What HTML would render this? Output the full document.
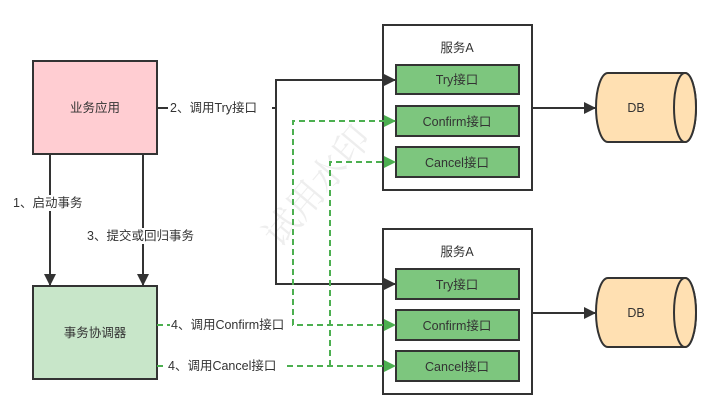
<!DOCTYPE html>
<html><head><meta charset="utf-8"><style>body{margin:0;background:#fff}svg{display:block}text{font-family:"Liberation Sans","Noto Sans CJK SC",sans-serif;font-size:12.5px;fill:#333}</style></head><body>
<svg width="721" height="420" viewBox="0 0 721 420" xmlns="http://www.w3.org/2000/svg">
<defs>
<marker id="ab" markerWidth="12" markerHeight="12" refX="11" refY="6" orient="auto" markerUnits="userSpaceOnUse"><path d="M0,0 L12,6 L0,12 Z" fill="#333"/></marker>
<marker id="ag" markerWidth="12" markerHeight="12" refX="11" refY="6" orient="auto" markerUnits="userSpaceOnUse"><path d="M0,0 L12,6 L0,12 Z" fill="#4caf50"/></marker>
</defs>
<text x="220" y="240" transform="rotate(-50 260 180)" style="font-size:36px;fill:#eee;font-family:'Noto Serif CJK SC',serif">试用水印</text>
<g stroke="#333" stroke-width="2">
<rect x="383" y="25" width="149" height="165" fill="#fff"/>
<rect x="396" y="65" width="123" height="29" fill="#7dc67e"/>
<rect x="396" y="106" width="123" height="30" fill="#7dc67e"/>
<rect x="396" y="147" width="123" height="30" fill="#7dc67e"/>
<rect x="383" y="229" width="149" height="165" fill="#fff"/>
<rect x="396" y="269" width="123" height="30" fill="#7dc67e"/>
<rect x="396" y="310" width="123" height="30" fill="#7dc67e"/>
<rect x="396" y="351" width="123" height="30" fill="#7dc67e"/>
<line x1="532" y1="108" x2="595" y2="108" marker-end="url(#ab)"/>
<line x1="532" y1="313" x2="595" y2="313" marker-end="url(#ab)"/>
</g>
<rect x="33" y="61" width="124" height="93" fill="#ffcdd2" stroke="#333" stroke-width="2"/>
<text x="95" y="112" text-anchor="middle">业务应用</text>
<rect x="33" y="286" width="124" height="93" fill="#c8e6c9" stroke="#333" stroke-width="2"/>
<text x="95" y="337" text-anchor="middle">事务协调器</text>
<line x1="50" y1="154" x2="50" y2="285" stroke="#333" stroke-width="2" marker-end="url(#ab)"/>
<line x1="143" y1="154" x2="143" y2="285" stroke="#333" stroke-width="2" marker-end="url(#ab)"/>
<rect x="12" y="195" width="76" height="16" fill="#fff"/><text x="13" y="207">1、启动事务</text>
<rect x="86" y="228" width="116" height="16" fill="#fff"/><text x="87" y="240">3、提交或回归事务</text>
<path d="M157,108 H276 V80 H395" fill="none" stroke="#333" stroke-width="2" marker-end="url(#ab)"/>
<path d="M276,108 V284 H395" fill="none" stroke="#333" stroke-width="2" marker-end="url(#ab)"/>
<rect x="168" y="100" width="104" height="16" fill="#fff"/><text x="170" y="112">2、调用Try接口</text>
<g fill="none" stroke="#4caf50" stroke-width="2" stroke-dasharray="6,4">
<path d="M157,325 H395" marker-end="url(#ag)"/>
<path d="M293,325 V121 H395" marker-end="url(#ag)"/>
<path d="M157,366 H395" marker-end="url(#ag)"/>
<path d="M330,366 V162 H395" marker-end="url(#ag)"/>
</g>
<rect x="170" y="317" width="122" height="16" fill="#fff"/><text x="171" y="329">4、调用Confirm接口</text>
<rect x="167" y="358" width="118" height="16" fill="#fff"/><text x="168" y="370">4、调用Cancel接口</text>
<g text-anchor="middle">
<text x="457" y="52">服务A</text>
<text x="457" y="84">Try接口</text>
<text x="457" y="126">Confirm接口</text>
<text x="457" y="167">Cancel接口</text>
<text x="457" y="256">服务A</text>
<text x="457" y="289">Try接口</text>
<text x="457" y="330">Confirm接口</text>
<text x="457" y="371">Cancel接口</text>
</g>
<g stroke="#333" stroke-width="2" fill="#ffe0b2">
<path d="M608,73 H685 A11,34.5 0 0 1 685,142 H608 A12,34.5 0 0 1 608,73 Z"/>
<ellipse cx="685" cy="107.5" rx="11" ry="34.5"/>
<path d="M608,278 H685 A11,34.5 0 0 1 685,347 H608 A12,34.5 0 0 1 608,278 Z"/>
<ellipse cx="685" cy="312.5" rx="11" ry="34.5"/>
</g>
<text x="636" y="112" text-anchor="middle">DB</text>
<text x="636" y="317" text-anchor="middle">DB</text>
</svg>
</body></html>
